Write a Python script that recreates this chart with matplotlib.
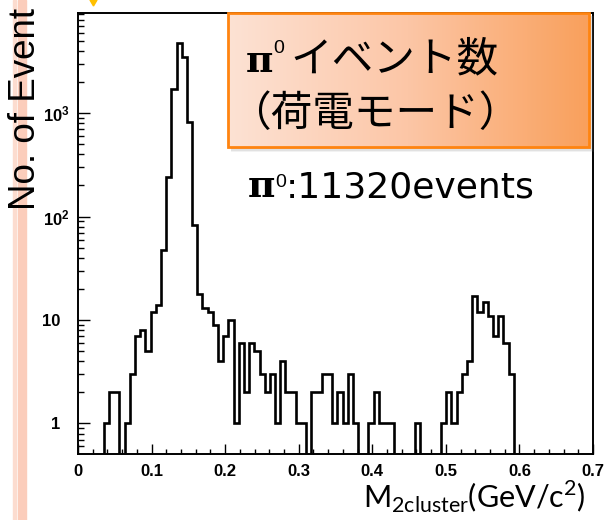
import numpy as np
import matplotlib
matplotlib.use("Agg")
import matplotlib.pyplot as plt
from matplotlib.ticker import MultipleLocator, LogLocator, FixedLocator, NullFormatter
from matplotlib.patches import Rectangle, Polygon
from matplotlib.colors import LinearSegmentedColormap

# two-cluster invariant mass, counts per bin
bin_width = 0.00705
counts = np.array([
    0, 0, 0, 0, 0, 1, 2, 2, 0, 1,
    3, 7, 8, 5, 12, 14, 48, 240, 1700, 4750,
    3500, 820, 83, 18, 13, 12, 9, 4, 7, 10,
    1, 6, 2, 6, 5, 3, 2, 3, 1, 4,
    2, 2, 1, 1, 0, 2, 2, 3, 3, 1,
    2, 1, 3, 1, 0, 0, 1, 2, 1, 1,
    1, 0, 0, 0, 0, 1, 0, 0, 0, 0,
    1, 2, 1, 2, 3, 4, 17, 12, 15, 11,
    7, 11, 6, 3, 0, 0, 0, 0, 0, 0,
    0, 0, 0, 0, 0, 0, 0, 0, 0, 0,
])
edges = np.arange(len(counts) + 1) * bin_width

x_ticks = [0, 0.1, 0.2, 0.3, 0.4, 0.5, 0.6, 0.7]
x_ticklabels = ["0", "0.1", "0.2", "0.3", "0.4", "0.5", "0.6", "0.7"]
y_ticks = [1, 10, 100, 1000]
y_ticklabels = ["1  ", "10  ", r"$\mathbf{10^{2}}$", r"$\mathbf{10^{3}}$"]

plt.rcParams["mathtext.fontset"] = "custom"
plt.rcParams["mathtext.bf"] = "Liberation Sans:bold"
plt.rcParams["mathtext.rm"] = "Liberation Sans"

W, H = 612, 520
def fx(px):
    return px / W
def fy(py):
    return 1 - py / H

fig = plt.figure(figsize=(W / 100, H / 100), dpi=100)
ax = fig.add_axes([fx(78), fy(454), fx(593) - fx(78), fy(13) - fy(454)])

# empty bins pushed below the axis so the outline drops to the frame
floor = 1e-2
ax.stairs(np.where(counts > 0, counts, floor), edges, baseline=floor,
          color="black", lw=1.9)

ax.set_yscale("log")
ax.set_xlim(0, 0.7)
ax.set_ylim(0.507, 9300)

ax.xaxis.set_major_locator(FixedLocator(x_ticks))
ax.set_xticklabels(x_ticklabels)
ax.xaxis.set_minor_locator(MultipleLocator(0.02))
ax.yaxis.set_major_locator(FixedLocator(y_ticks))
ax.set_yticklabels(y_ticklabels)
ax.yaxis.set_minor_locator(LogLocator(base=10, subs=np.arange(2, 10)))
ax.yaxis.set_minor_formatter(NullFormatter())

ax.tick_params(which="both", direction="in", top=False, right=False,
               width=1.0, color="black")
ax.tick_params(axis="x", which="major", length=7, pad=7)
ax.tick_params(axis="x", which="minor", length=3.5)
ax.tick_params(axis="y", which="major", length=8.5, pad=6)
ax.tick_params(axis="y", which="minor", length=4.5)
for lab in ax.get_xticklabels() + ax.get_yticklabels():
    lab.set_fontfamily("Liberation Sans")
    lab.set_fontweight("bold")
    lab.set_fontsize(12)
for sp in ax.spines.values():
    sp.set_linewidth(1.4)
    sp.set_color("black")

# pink stripe on the left edge of the slide
fig.add_artist(Rectangle((fx(13), 0), fx(3), 1, transform=fig.transFigure,
                         color="#fcdccf", zorder=0))
fig.add_artist(Rectangle((fx(18), 0), fx(8), 1, transform=fig.transFigure,
                         color="#fbcdbb", zorder=0))
fig.add_artist(Polygon([(fx(90), fy(0)), (fx(97), fy(0)), (fx(93.5), fy(6))],
                       closed=True, transform=fig.transFigure,
                       color="#ffc000", zorder=1))

fig.text(fx(26), fy(109), "No. of Event", rotation=90, fontsize=26.5,
         family="Liberation Sans", ha="center", va="center")
fig.text(fx(586), fy(508),
         r"M$_{\mathregular{2cluster}}$(GeV/c$^{\mathregular{2}}$)",
         family="Lato", fontsize=22, ha="right", va="baseline")

# orange title box with a soft shadow
for off, a in [(5, 0.10), (3.5, 0.15), (2, 0.2)]:
    fig.add_artist(Rectangle((fx(231), fy(147 + off)), fx(589 + off) - fx(231),
                             fy(16) - fy(147 + off), transform=fig.transFigure,
                             color="gray", alpha=a, lw=0, zorder=1))
bax = fig.add_axes([fx(228), fy(147), fx(589) - fx(228), fy(13) - fy(147)])
bax.set_zorder(2)
grad = LinearSegmentedColormap.from_list("box", ["#fde2d4", "#fcc6a6", "#f9a05c"])
bax.imshow(np.linspace(0, 1, 256).reshape(1, -1), cmap=grad, aspect="auto",
           extent=[0, 1, 0, 1])
bax.axis("off")
fig.add_artist(Rectangle((fx(228), fy(147)), fx(589) - fx(228),
                         fy(13) - fy(147), transform=fig.transFigure,
                         fill=False, edgecolor="#ff8410", lw=2, zorder=3))

fig.text(fx(246), fy(72), "π", family="DejaVu Serif", weight="bold",
         fontsize=27, va="baseline", zorder=4)
fig.text(fx(273), fy(53), "0", family="Liberation Sans", fontsize=14,
         va="baseline", zorder=4)
fig.text(fx(290), fy(71), "イベント数", family="Noto Sans CJK JP",
         fontsize=30, va="baseline", zorder=4)
fig.text(fx(229), fy(126), "（荷電モード）", family="Noto Sans CJK JP",
         fontsize=30, va="baseline", zorder=4)

fig.text(fx(248), fy(197), "π", family="DejaVu Serif", weight="bold",
         fontsize=27, va="baseline")
fig.text(fx(275), fy(187), "0", family="Liberation Sans", fontsize=14,
         va="baseline")
fig.text(fx(286), fy(197), ":11320events", family="DejaVu Sans",
         fontsize=26, va="baseline")

fig.savefig("out.png", dpi=100)
